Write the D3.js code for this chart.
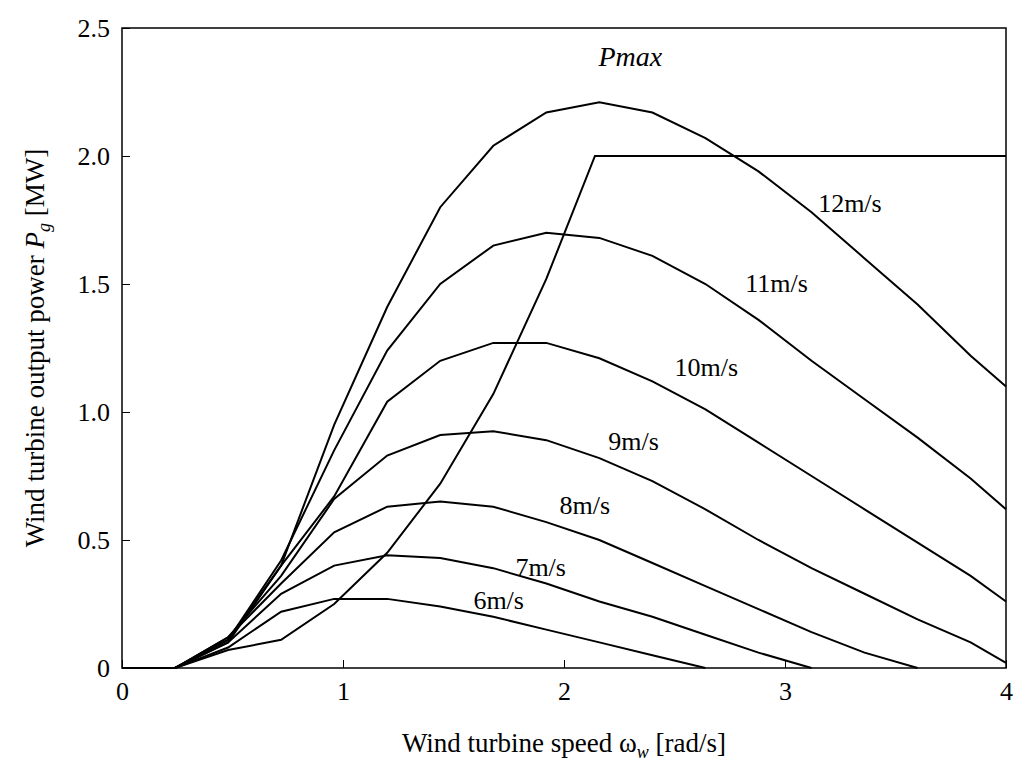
<!DOCTYPE html>
<html>
<script src="https://d3js.org/d3.v7.min.js"></script>
<body style="margin:0;background:#fff">
<div id="chart"></div>
<script>
var xs = [0, 0.24, 0.48, 0.72, 0.96, 1.2, 1.44, 1.68, 1.92, 2.16, 2.4, 2.64, 2.88, 3.12, 3.36, 3.6, 3.84, 4];
var p12 = [0, 0, 0.10, 0.40, 0.95, 1.41, 1.80, 2.04, 2.17, 2.21, 2.17, 2.07, 1.94, 1.78, 1.60, 1.42, 1.22, 1.10];
var p11 = [0, 0, 0.11, 0.42, 0.85, 1.24, 1.50, 1.65, 1.70, 1.68, 1.61, 1.50, 1.36, 1.20, 1.05, 0.90, 0.74, 0.62];
var p10 = [0, 0, 0.11, 0.40, 0.67, 1.04, 1.20, 1.27, 1.27, 1.21, 1.12, 1.01, 0.88, 0.75, 0.62, 0.49, 0.36, 0.26];
var p9 = [0, 0, 0.12, 0.36, 0.66, 0.83, 0.91, 0.925, 0.89, 0.82, 0.73, 0.62, 0.50, 0.39, 0.29, 0.19, 0.10, 0.02];
var p8 = [0, 0, 0.12, 0.33, 0.53, 0.63, 0.65, 0.63, 0.57, 0.50, 0.41, 0.32, 0.23, 0.14, 0.06, 0];
var p7 = [0, 0, 0.10, 0.29, 0.40, 0.44, 0.43, 0.39, 0.33, 0.26, 0.20, 0.13, 0.06, 0];
var p6 = [0, 0, 0.08, 0.22, 0.27, 0.27, 0.24, 0.20, 0.15, 0.10, 0.05, 0];
var pmaxX = [0, 0.24, 0.48, 0.72, 0.96, 1.2, 1.44, 1.68, 1.92, 2.14, 4];
var pmaxY = [0, 0, 0.07, 0.11, 0.25, 0.45, 0.72, 1.07, 1.52, 2.0, 2.0];
var curveLabels = [["12m/s", 3.15, 1.78], ["11m/s", 2.82, 1.47], ["10m/s", 2.5, 1.14], ["9m/s", 2.2, 0.85],
                   ["8m/s", 1.98, 0.6], ["7m/s", 1.78, 0.36], ["6m/s", 1.59, 0.23]];
var xTicks = [0, 1, 2, 3, 4];
var yTicks = [0, 0.5, 1.0, 1.5, 2.0, 2.5];

var mLeft = 122, mRight = 1006, mTop = 28, mBottom = 668;
var svg = d3.select("#chart").append("svg").attr("width", 1024).attr("height", 766)
  .style("font-family", "Liberation Serif, serif");
var x = d3.scaleLinear().domain([0, 4]).range([mLeft, mRight]);
var y = d3.scaleLinear().domain([0, 2.5]).range([mBottom, mTop]);

svg.append("g").attr("transform", "translate(0," + mBottom + ")")
  .call(d3.axisBottom(x).tickValues(xTicks).tickSizeInner(-8).tickSizeOuter(0).tickPadding(14).tickFormat(d3.format("d")))
  .call(g => g.select(".domain").remove());
svg.append("g").attr("transform", "translate(" + mLeft + ",0)")
  .call(d3.axisLeft(y).tickValues(yTicks).tickSizeInner(-8).tickSizeOuter(0).tickPadding(12)
    .tickFormat(d => d == 0 ? "0" : d3.format(".1f")(d)))
  .call(g => g.select(".domain").remove());
svg.selectAll(".tick text").style("font-size", "26px").style("font-family", "Liberation Serif, serif").attr("fill", "#000");
svg.selectAll(".tick line").attr("stroke", "#000");
svg.append("rect").attr("x", mLeft).attr("y", mTop).attr("width", mRight - mLeft).attr("height", mBottom - mTop)
  .attr("fill", "none").attr("stroke", "#000").attr("stroke-width", 1.5);

var line = d3.line().x(d => x(d[0])).y(d => y(d[1]));
[p12, p11, p10, p9, p8, p7, p6].forEach(function (s) {
  svg.append("path").datum(s.map((v, i) => [xs[i], v])).attr("d", line)
    .attr("fill", "none").attr("stroke", "#000").attr("stroke-width", 2);
});
svg.append("path").datum(pmaxX.map((v, i) => [v, pmaxY[i]])).attr("d", line)
  .attr("fill", "none").attr("stroke", "#000").attr("stroke-width", 2);

svg.selectAll(".clab").data(curveLabels).enter().append("text")
  .attr("x", d => x(d[1])).attr("y", d => y(d[2])).style("font-size", "26px").text(d => d[0]);
svg.append("text").attr("x", x(2.3)).attr("y", y(2.35)).attr("text-anchor", "middle")
  .style("font-size", "28px").style("font-style", "italic").text("Pmax");

var xl = svg.append("text").attr("x", 564).attr("y", 752).attr("text-anchor", "middle").style("font-size", "27px");
xl.append("tspan").text("Wind turbine speed ω");
xl.append("tspan").attr("dy", 6).style("font-size", "18px").style("font-style", "italic").text("w");
xl.append("tspan").attr("dy", -6).text(" [rad/s]");
var yl = svg.append("text").attr("transform", "translate(44,348) rotate(-90)").attr("text-anchor", "middle").style("font-size", "27px");
yl.append("tspan").text("Wind turbine output power ");
yl.append("tspan").style("font-style", "italic").text("P");
yl.append("tspan").attr("dy", 6).style("font-size", "18px").style("font-style", "italic").text("g");
yl.append("tspan").attr("dy", -6).text(" [MW]");
</script>
</body>
</html>
